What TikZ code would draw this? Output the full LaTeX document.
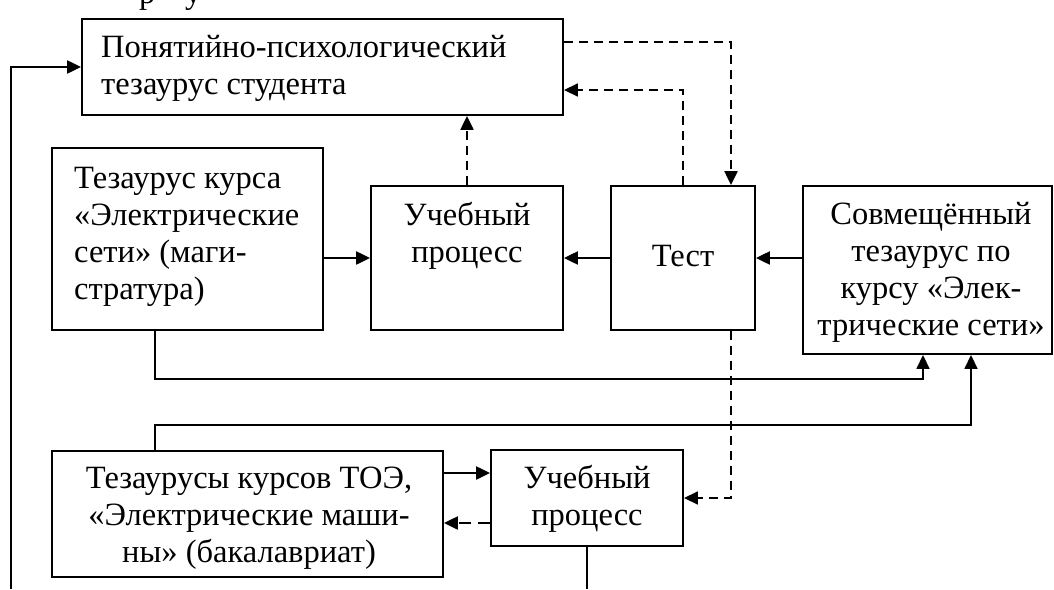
\documentclass[tikz,border=0pt]{standalone}
\usepackage{fontspec}
\setmainfont{Liberation Serif}
\usetikzlibrary{arrows.meta}
\begin{document}
\begin{tikzpicture}[x=1pt,y=-1pt,
  box/.style={draw,line width=1.9pt,inner sep=0pt},
  txt/.style={font=\fontsize{32.5}{37}\selectfont,inner sep=0pt},
  conn/.style={line width=2.3pt},
  thin/.style={line width=1.7pt},
  arr/.style={-{Triangle[length=14pt,width=13pt]}},
  dsh/.style={dash pattern=on 9pt off 6pt}]
\useasboundingbox (0,0) rectangle (1054,589);
\clip (0,0) rectangle (1054,589);
% cut-off line of text above
\node[txt,anchor=base west] (frag1) at (139,3) {р};
\node[txt,anchor=base west] (frag2) at (185,3) {у};
% boxes
\node[box,minimum width=481pt,minimum height=96pt] (b1) at (322.5,67) {};
\node[txt,align=left,anchor=west] (b1t) at (101,68) {Понятийно-психологический\\тезаурус студента};
\node[box,minimum width=271pt,minimum height=182pt] (b2) at (187.5,239) {};
\node[txt,align=left,anchor=west] (b2t) at (74,237) {Тезаурус курса\\«Электрические\\сети» (маги-\\стратура)};
\node[box,minimum width=192pt,minimum height=144pt] (b3) at (467,258) {};
\node[txt,align=center] (b3t) at (467,236) {Учебный\\процесс};
\node[box,minimum width=144pt,minimum height=144pt] (t) at (683,258) {};
\node[txt] (tt) at (683,256) {Тест};
\node[box,minimum width=249pt,minimum height=168pt] (s) at (927.5,270) {};
\node[txt,align=center] (st) at (931,272) {Совмещённый\\тезаурус по\\курсу «Элек-\\трические сети»};
\node[box,minimum width=391pt,minimum height=126pt] (b5) at (247.5,514) {};
\node[txt,align=center] (b5t) at (249,518) {Тезаурусы курсов ТОЭ,\\«Электрические маши-\\ны» (бакалавриат)};
\node[box,minimum width=192pt,minimum height=96pt] (b6) at (587,498) {};
\node[txt,align=center] (b6t) at (587,499) {Учебный\\процесс};
% free ends
\coordinate (lb) at (11,589);
\coordinate (bot) at (587,589);
% connectors
\draw[conn,arr] (lb) |- (b1.west);
\draw[conn,dsh,arr] ([yshift=25pt]b1.east) -| ([xshift=48pt]t.north);
\draw[thin,dsh,arr] (t.north) |- ([yshift=-23pt]b1.east);
\draw[conn,dsh,arr] (b3.north) -- (b1.south -| b3.north);
\draw[conn,arr] (b3.west -| b2.east) -- (b3.west);
\draw[conn,arr] (t.west) -- (b3.east);
\draw[conn,arr] (t.east -| s.west) -- (t.east);
\draw[thin,arr] ([xshift=-32.5pt]b2.south) -- ++(0,48) -| ([xshift=-4.5pt]s.south);
\draw[thin,arr] ([xshift=-92.5pt]b5.north) -- ++(0,-25) -| ([xshift=43.5pt]s.south);
\draw[thin,dsh,arr] ([xshift=48pt]t.south) |- (b6.east);
\draw[conn,arr] ([yshift=41pt]b5.east) -- ([yshift=25pt]b6.west);
\draw[conn,dash pattern=on 12pt off 7pt,arr] ([yshift=-25pt]b6.west) -- ([yshift=-9pt]b5.east);
\draw[thin] (b6.south) -- (bot);
\end{tikzpicture}
\end{document}
